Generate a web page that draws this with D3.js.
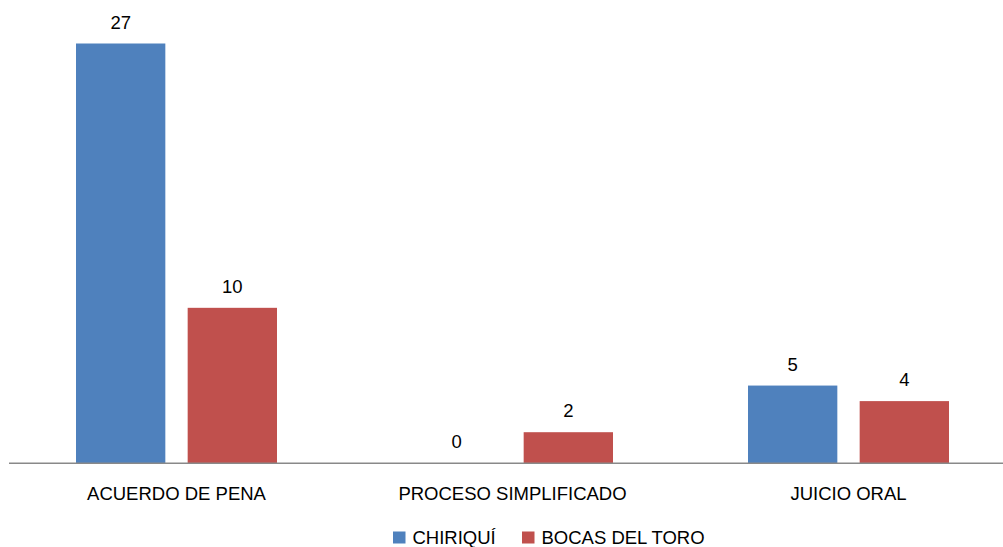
<!DOCTYPE html>
<html>
<head>
<meta charset="utf-8">
<script src="https://cdn.jsdelivr.net/npm/d3@7"></script>
<style>
  body { margin: 0; background: #fff; }
  svg text { font-family: "Liberation Sans", Arial, sans-serif; fill: #000; }
</style>
</head>
<body>
<svg id="chart"></svg>
<script>
// data
const categories = ["ACUERDO DE PENA", "PROCESO SIMPLIFICADO", "JUICIO ORAL"];
const seriesNames = ["CHIRIQUÍ", "BOCAS DEL TORO"];
const chiriqui = [27, 0, 5];
const bocas = [10, 2, 4];
const seriesColors = ["#4F81BD", "#C0504D"];

const width = 1003, height = 547;
const svg = d3.select("#chart")
  .attr("width", width)
  .attr("height", height);

const baseY = 463.3;

// group scale (plot area runs a bit past the right edge)
const x0 = d3.scaleBand()
  .domain(categories)
  .range([8.5, 1016.5]);

const x1 = d3.scaleBand()
  .domain(seriesNames)
  .range([x0.bandwidth() / 2 - 100.5, x0.bandwidth() / 2 + 100.5])
  .paddingInner(0.2);

const y = d3.scaleLinear()
  .domain([0, 27])
  .range([baseY, 43.5]);

const rows = categories.map((c, i) => ({
  cat: c,
  values: [chiriqui[i], bocas[i]].map((v, j) => ({ name: seriesNames[j], value: v, color: seriesColors[j] }))
}));

const groups = svg.selectAll(".grp")
  .data(rows)
  .enter()
  .append("g")
  .attr("class", "grp")
  .attr("transform", d => `translate(${x0(d.cat)},0)`);

// bars
groups.selectAll("rect")
  .data(d => d.values)
  .enter()
  .append("rect")
  .attr("x", d => x1(d.name))
  .attr("y", d => y(d.value))
  .attr("width", x1.bandwidth())
  .attr("height", d => baseY - y(d.value))
  .attr("fill", d => d.color);

// value labels
groups.selectAll(".val")
  .data(d => d.values)
  .enter()
  .append("text")
  .attr("class", "val")
  .attr("x", d => x1(d.name) + x1.bandwidth() / 2)
  .attr("y", d => y(d.value) - 15)
  .attr("text-anchor", "middle")
  .style("font-size", "18.5px")
  .text(d => d.value);

// axis line
svg.append("line")
  .attr("x1", 9)
  .attr("x2", width)
  .attr("y1", baseY)
  .attr("y2", baseY)
  .attr("stroke", "#898989")
  .attr("stroke-width", 1.5);

// category labels
svg.selectAll(".cat")
  .data(categories)
  .enter()
  .append("text")
  .attr("class", "cat")
  .attr("x", d => x0(d) + x0.bandwidth() / 2)
  .attr("y", 500)
  .attr("text-anchor", "middle")
  .style("font-size", "18.5px")
  .text(d => d);

// legend
const legendX = [393, 522];
seriesNames.forEach((name, i) => {
  const row = svg.append("g")
    .attr("transform", `translate(${legendX[i]},531.5)`);
  row.append("rect")
    .attr("width", 12.5)
    .attr("height", 12)
    .attr("fill", seriesColors[i]);
  row.append("text")
    .attr("x", 19.5)
    .attr("y", 12)
    .style("font-size", "18.5px")
    .text(name);
});
</script>
</body>
</html>
